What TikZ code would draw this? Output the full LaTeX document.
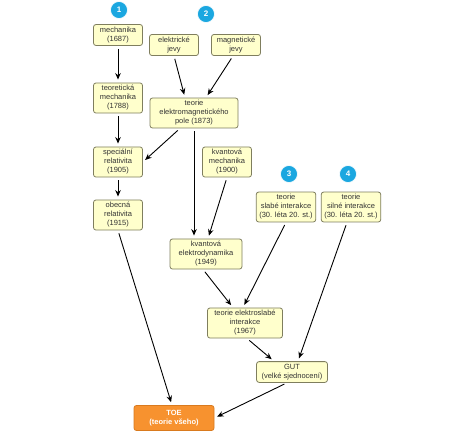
\documentclass[tikz,border=0pt]{standalone}
\usepackage{fontspec}
\setmainfont{Liberation Sans}
\usetikzlibrary{arrows.meta, positioning, calc}
\definecolor{boxfill}{HTML}{FFFFCC}
\definecolor{boxline}{HTML}{7F7E5E}
\definecolor{toefill}{HTML}{F7922F}
\definecolor{toeline}{HTML}{D97A1E}
\definecolor{badge}{HTML}{1BA7E0}
\definecolor{ink}{HTML}{333333}

\begin{document}
\begin{tikzpicture}[
    x=1pt, y=-1pt,
    theory/.style={draw=boxline, fill=boxfill, rounded corners=2.5pt, line width=0.8pt,
        align=center, text=ink, font=\fontsize{7.5}{9}\selectfont,
        inner xsep=5pt, inner ysep=2.5pt, minimum width=49pt},
    goal/.style={theory, draw=toeline, fill=toefill, text=white,
        font=\fontsize{7.5}{9}\selectfont\bfseries, minimum width=80pt, minimum height=25pt},
    num/.style={circle, fill=badge, draw=white, line width=0.6pt, minimum size=17pt,
        inner sep=0pt, text=white, font=\fontsize{8}{8}\selectfont\bfseries},
    flow/.style={->, line width=0.9pt, shorten >=3pt, shorten <=3pt},
    >={Stealth[length=6.5pt, width=5.5pt]}
]
\fill[white] (0,0) rectangle (474,431);
\useasboundingbox (0,0) rectangle (474,431);

\node[num] (n1) at (119,10) {1};
\node[num] (n2) at (206,14) {2};
\node[num] (n3) at (289,174) {3};
\node[num] (n4) at (348,174) {4};

\node[theory] (mech) at (118,35) {mechanika\\(1687)};
\node[theory] (tmech) at (118,98) {teoretická\\mechanika\\(1788)};
\node[theory] (el) at (174,45) {elektrické\\jevy};
\node[theory] (mag) at (236,45) {magnetické\\jevy};
\node[theory, minimum width=88pt] (em) at (194,113) {teorie\\elektromagnetického\\pole (1873)};
\node[theory] (sr) at (118,162) {speciální\\relativita\\(1905)};
\node[theory] (qm) at (227,162) {kvantová\\mechanika\\(1900)};
\node[theory] (gr) at (118,215) {obecná\\relativita\\(1915)};
\node[theory, inner xsep=3pt] (weak) at (286,207) {teorie\\slabé interakce\\(30. léta 20. st.)};
\node[theory, inner xsep=3pt] (strong) at (351,207) {teorie\\silné interakce\\(30. léta 20. st.)};
\node[theory, minimum width=72pt] (qed) at (206,254) {kvantová\\elektrodynamika\\(1949)};
\node[theory, minimum width=75pt] (ew) at (245,323) {teorie elektroslabé\\interakce\\(1967)};
\node[theory, minimum width=70pt] (gut) at (292,372) {GUT\\(velké sjednocení)};
\node[goal] (toe) at (174,418) {TOE\\(teorie všeho)};

\draw[flow] (mech) -- (tmech);
\draw[flow] (tmech) -- (sr);
\draw[flow] (sr) -- (gr);
\draw[flow] (el.south) -- ([xshift=-9pt]em.north);
\draw[flow] ([xshift=-3pt]mag.south) -- ([xshift=12pt]em.north);
\draw[flow] ([xshift=-14pt]em.south) -- (sr.east);
\draw[flow] (em.south) -- (em.south |- qed.north);
\draw[flow] (qm.south) -- ([xshift=2pt]qed.north);
\draw[flow] (gr.south) -- ([xshift=-2pt]toe.north);
\draw[flow] ([xshift=-3pt]qed.south) -- ([xshift=-12pt]ew.north);
\draw[flow] (weak.south) -- ([xshift=-2pt]ew.north);
\draw[flow] ([xshift=2pt]ew.south) -- ([xshift=-18pt]gut.north);
\draw[flow] ([xshift=-4pt]strong.south) -- ([xshift=6pt]gut.north);
\draw[flow] ([xshift=-5pt]gut.south) -- (toe.east);
\end{tikzpicture}
\end{document}
